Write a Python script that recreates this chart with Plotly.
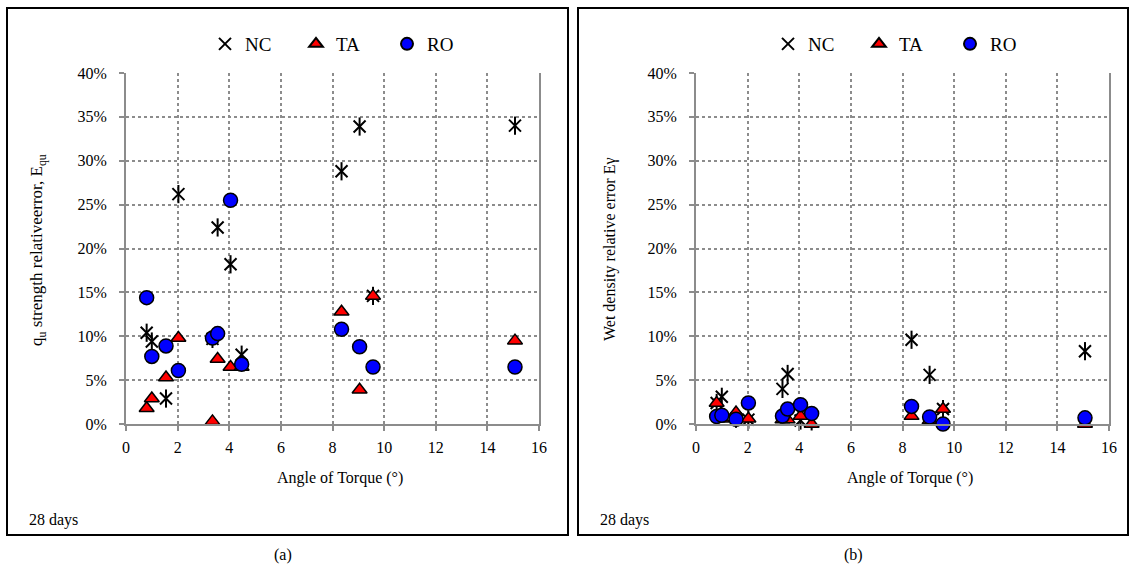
import plotly.graph_objects as go

# Angle of torque (degrees) for each specimen
angle = [0.80, 1.00, 1.55, 2.03, 3.35, 3.55, 4.05, 4.48, 8.35, 9.05, 9.57, 15.07]

# (a) qu strength relative error, %
nc_qu = [10.4, 9.4, 2.9, 26.2, 9.7, 22.4, 18.2, 7.9, 28.8, 33.9, 14.6, 34.0]
ta_qu = [1.8, 2.9, 5.3, 9.8, 0.3, 7.4, 6.5, 6.5, 12.8, 3.9, 14.6, 9.5]
ro_qu = [14.4, 7.7, 8.9, 6.1, 9.8, 10.3, 25.5, 6.8, 10.8, 8.8, 6.5, 6.5]

# (b) wet density relative error, %
nc_wd = [2.4, 3.1, 0.6, 0.5, 4.0, 5.7, 0.4, 0.3, 9.6, 5.6, 1.7, 8.3]
ta_wd = [2.4, 0.6, 1.3, 0.6, 0.5, 0.5, 0.9, 0.0, 0.9, 0.4, 1.7, 0.0]
ro_wd = [0.85, 1.0, 0.55, 2.4, 0.9, 1.7, 2.2, 1.2, 2.0, 0.8, 0.0, 0.7]

x_ticks = list(range(0, 17, 2))
y_ticks = list(range(0, 41, 5))
y_ticktext = [f"{v}%" for v in y_ticks]

W, H = 1134, 578
FONT = "Liberation Serif"
GRID = "#8c8c8c"


def px(x):
    return x / W


def py(y):
    return 1 - y / H


fig = go.Figure()


def add_panel(xa, ya, legend, nc, ta, ro):
    common = dict(x=angle, xaxis=xa, yaxis=ya, mode="markers", cliponaxis=False)
    # NC drawn as a six-armed star: an x plus a vertical bar
    fig.add_trace(go.Scatter(y=nc, name="NC", legend=legend,
                             marker=dict(symbol="x-thin-open", size=12,
                                         line=dict(color="black", width=2), color="black"),
                             **common))
    fig.add_trace(go.Scatter(y=nc, name="NC", legend=legend, showlegend=False,
                             marker=dict(symbol="line-ns-open", size=13,
                                         line=dict(color="black", width=2), color="black"),
                             **common))
    fig.add_trace(go.Scatter(y=ta, name="TA", legend=legend,
                             marker=dict(symbol="triangle-up", size=13, color="#ff0000",
                                         line=dict(color="black", width=1.5)),
                             **common))
    fig.add_trace(go.Scatter(y=ro, name="RO", legend=legend,
                             marker=dict(symbol="circle", size=14, color="#0000ff",
                                         line=dict(color="black", width=1.5)),
                             **common))


add_panel("x", "y", "legend", nc_qu, ta_qu, ro_qu)
add_panel("x2", "y2", "legend2", nc_wd, ta_wd, ro_wd)

axis_common = dict(showline=True, linecolor=GRID, linewidth=2,
                   showgrid=True, gridcolor=GRID, griddash="dot", gridwidth=1.5,
                   ticks="outside", ticklen=5, tickcolor=GRID, tickwidth=1.5,
                   tickfont=dict(family=FONT, size=16, color="black"), zeroline=False)

xdom1 = [px(126), px(539)]
xdom2 = [px(696), px(1109)]
ydom = [py(424), py(73)]

legend_common = dict(orientation="h", xanchor="left", yanchor="middle",
                     font=dict(family=FONT, size=19), entrywidth=46,
                     entrywidthmode="pixels", bgcolor="rgba(0,0,0,0)",
                     itemsizing="constant")

fig.update_layout(
    width=W, height=H, margin=dict(l=0, r=0, t=0, b=0, autoexpand=False),
    paper_bgcolor="white", plot_bgcolor="white",
    font=dict(family=FONT, color="black"),
    xaxis=dict(domain=xdom1, anchor="y", range=[0, 16], tickvals=x_ticks,
               ticklabelstandoff=3, **axis_common),
    yaxis=dict(domain=ydom, anchor="x", range=[0, 40], tickvals=y_ticks,
               ticktext=y_ticktext, ticklabelstandoff=9, mirror=True, **axis_common),
    xaxis2=dict(domain=xdom2, anchor="y2", range=[0, 16], tickvals=x_ticks,
                ticklabelstandoff=3, **axis_common),
    yaxis2=dict(domain=ydom, anchor="x2", range=[0, 40], tickvals=y_ticks,
                ticktext=y_ticktext, ticklabelstandoff=9, mirror=True, **axis_common),
    legend=dict(x=px(205), y=py(44), **legend_common),
    legend2=dict(x=px(768), y=py(44), **legend_common),
)

# Outer frames around each panel
for x0, x1 in [(7, 568), (578, 1128)]:
    fig.add_shape(type="rect", xref="paper", yref="paper",
                  x0=px(x0), x1=px(x1), y0=py(535), y1=py(8),
                  line=dict(color="black", width=2))

texts = [
    ("Angle of Torque (°)", 340, 478, 0, 16),
    ("Angle of Torque (°)", 910, 478, 0, 16),
    ("q<sub>u</sub> strength relativeerror, E<sub>qu</sub>", 38, 250, -90, 17),
    ("Wet density relative error Eγ", 610, 250, -90, 16),
    ("(a)", 283, 555, 0, 16),
    ("(b)", 853, 555, 0, 16),
]
for txt, x, y, ang, size in texts:
    fig.add_annotation(text=txt, xref="paper", yref="paper", x=px(x), y=py(y),
                       xanchor="center", yanchor="middle", showarrow=False,
                       textangle=ang, font=dict(family=FONT, size=size, color="black"))

for x in (27, 598):
    fig.add_annotation(text="28 days", xref="paper", yref="paper", x=px(x), y=py(520),
                       xanchor="left", yanchor="middle", showarrow=False,
                       font=dict(family=FONT, size=16, color="black"))

fig.write_html("out.html")
